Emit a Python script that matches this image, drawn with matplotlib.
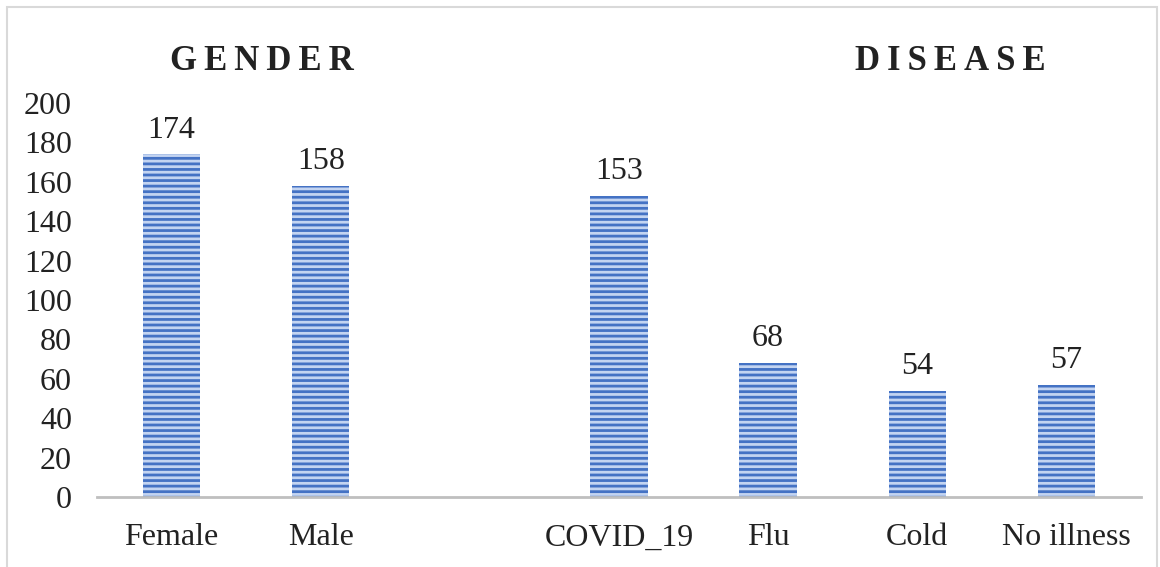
import matplotlib.pyplot as plt
import matplotlib.patches as mpatches
import numpy as np

# datos del grafico
categorias = ['Female', 'Male', '', 'COVID_19', 'Flu', 'Cold', 'No illness']
valores = [174, 158, np.nan, 153, 68, 54, 57]
etiquetas_y = [0, 20, 40, 60, 80, 100, 120, 140, 160, 180, 200]
titulos = ['GENDER', 'DISEASE']

plt.rcParams['font.family'] = ['Liberation Serif', 'DejaVu Serif']
plt.rcParams['hatch.linewidth'] = 2.0

fig = plt.figure(figsize=(11.6, 5.67), dpi=100)
ax = fig.add_axes([0.0836, 0.1235, 0.9, 0.6948])

x = np.arange(len(categorias))
barras = ax.bar(x, np.nan_to_num(valores), width=0.385, color='#C3D4F1',
                edgecolor='#4472C4', linewidth=0, hatch='---')

for xi, v in zip(x, valores):
    if not np.isnan(v):
        ax.annotate(str(int(v)), (xi, v), xytext=(0, 7), textcoords='offset points',
                    ha='center', va='bottom', fontsize=23, color='#222222')

ax.set_xlim(-0.5, len(categorias) - 0.5)
ax.set_ylim(0, 200)
ax.set_yticks(etiquetas_y)
ax.set_xticks(x)
ax.set_xticklabels(categorias)
ax.tick_params(axis='both', length=0, labelsize=23, colors='#222222')
ax.tick_params(axis='x', pad=19)
ax.tick_params(axis='y', pad=18)

for s in ['top', 'right', 'left']:
    ax.spines[s].set_visible(False)
ax.spines['bottom'].set_color('#BFBFBF')
ax.spines['bottom'].set_linewidth(2)

# titulos de grupo
sp = '\u2009'
fig.text(262 / 1160, 1 - 62 / 567, sp.join(titulos[0]), ha='center', va='center',
         fontsize=25, fontweight='bold', color='#222222')
fig.text(950 / 1160, 1 - 62 / 567, sp.join(titulos[1]), ha='center', va='center',
         fontsize=25, fontweight='bold', color='#222222')

# marco del grafico
marco = mpatches.Rectangle((7 / 1160, -0.05), 1150 / 1160, 1 - 7 / 567 + 0.05,
                           transform=fig.transFigure, fill=False,
                           edgecolor='#D9D9D9', linewidth=1.5)
fig.patches.append(marco)

fig.savefig('out.png', dpi=100)
